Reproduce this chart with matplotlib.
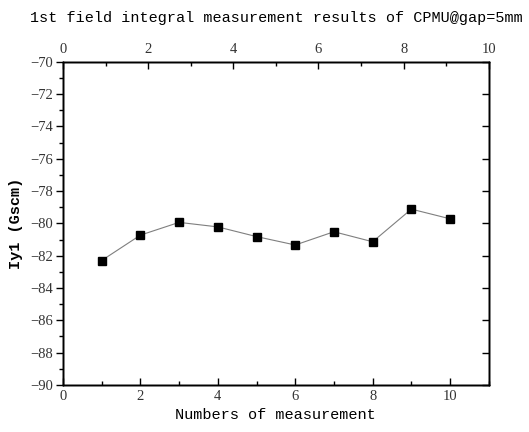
import matplotlib
matplotlib.use('Agg')
import matplotlib.pyplot as plt
from matplotlib.ticker import MultipleLocator

plt.rcParams['font.family'] = ['Liberation Mono', 'DejaVu Sans Mono']
plt.rcParams['axes.linewidth'] = 1.0

# measurement number and field integral values
meas = [1, 2, 3, 4, 5, 6, 7, 8, 9, 10]
iy1 = [-82.3, -80.73, -79.94, -80.22, -80.82, -81.34, -80.52, -81.14, -79.12, -79.72]

title = '1st field integral measurement results of CPMU@gap=5mm'
xlabel = 'Numbers of measurement'
ylabel = 'Iy1 (Gscm)'

tick_font = ['Liberation Serif', 'DejaVu Serif']

fig = plt.figure(figsize=(5.29, 4.32), dpi=100)
ax = fig.add_axes([0.119, 0.109, 0.805, 0.748])

ax.plot(meas, iy1, color='#7f7f7f', linewidth=0.8, marker='s',
        markersize=5.5, markerfacecolor='black', markeredgecolor='black')

ax.set_xlim(0, 11)
ax.set_ylim(-90, -70)
ax.xaxis.set_major_locator(MultipleLocator(2))
ax.xaxis.set_minor_locator(MultipleLocator(1))
ax.yaxis.set_major_locator(MultipleLocator(2))
ax.yaxis.set_minor_locator(MultipleLocator(1))
ax.tick_params(axis='x', which='major', direction='in', length=5, width=1, labelsize=10.5, pad=4)
ax.tick_params(axis='x', which='minor', direction='in', length=3, width=1)
ax.tick_params(axis='y', which='major', direction='out', length=5, width=1, labelsize=10.5, pad=2)
ax.tick_params(axis='y', which='minor', direction='out', length=3, width=1)
ax.set_xlabel(xlabel, fontsize=11, labelpad=3)
ax.set_ylabel(ylabel, fontsize=11, fontweight='bold', labelpad=5)

# top axis
top = ax.twiny()
top.set_xlim(0, 10)
top.xaxis.set_major_locator(MultipleLocator(2))
top.xaxis.set_minor_locator(MultipleLocator(1))
top.tick_params(axis='x', which='major', direction='in', length=5, width=1, labelsize=10.5, pad=4)
top.tick_params(axis='x', which='minor', direction='in', length=3, width=1)

# right axis, ticks only
right = ax.twinx()
right.set_ylim(-90, -70)
right.yaxis.set_major_locator(MultipleLocator(2))
right.tick_params(axis='y', which='major', direction='in', length=5, width=1, labelright=False)

for a in (ax, top):
    for lab in a.get_xticklabels() + a.get_yticklabels():
        lab.set_family(tick_font)
        lab.set_color('#333333')

fig.text(0.523, 0.958, title, ha='center', va='center', fontsize=10.9)

fig.savefig('out.png', dpi=100)
